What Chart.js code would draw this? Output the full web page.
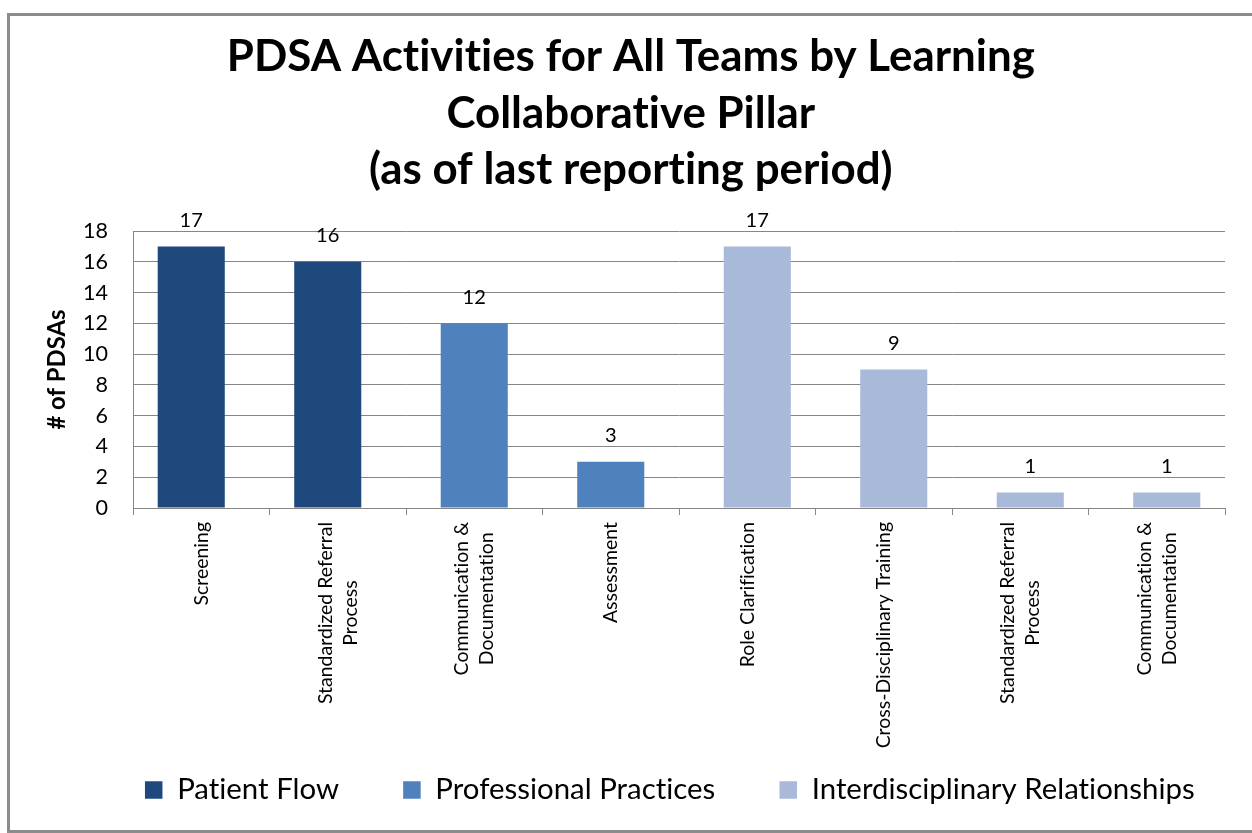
<!DOCTYPE html>
<html>
<head>
<meta charset="utf-8">
<script src="https://cdn.jsdelivr.net/npm/chart.js@4.4.1/dist/chart.umd.min.js"></script>
<style>
  html, body { margin: 0; padding: 0; background: #ffffff; overflow: hidden; width: 1252px; height: 833px; }
  #c { position: absolute; left: 0; top: 0; }
</style>
</head>
<body>
<canvas id="c" width="1252" height="833"></canvas>
<script>
// ---------- data ----------
const titleLines = ['PDSA Activities for All Teams by Learning', 'Collaborative Pillar', '(as of last reporting period)'];
const categories = [
  ['Screening'],
  ['Standardized Referral', 'Process'],
  ['Communication &', 'Documentation'],
  ['Assessment'],
  ['Role Clarification'],
  ['Cross-Disciplinary Training'],
  ['Standardized Referral', 'Process'],
  ['Communication &', 'Documentation']
];
const seriesNames = ['Patient Flow', 'Professional Practices', 'Interdisciplinary Relationships'];
const patientFlow = [17, 16, null, null, null, null, null, null];
const professionalPractices = [null, null, 12, 3, null, null, null, null];
const interdisciplinaryRelationships = [null, null, null, null, 17, 9, 1, 1];
const yMin = 0, yMax = 18, yStep = 2;
const yTitle = '# of PDSAs';

// ---------- styles ----------
const seriesColors = ['#1F497D', '#4F81BD', '#A9B9D9'];
const FAMILY = 'Lato, Carlito, Calibri, sans-serif';
const GRID = '#868686';
const FRAME = '#8c8c8c';

function plainText(ctx) {
  try { ctx.textRendering = 'optimizeSpeed'; } catch (e) {}
  try { ctx.letterSpacing = '0.01px'; } catch (e) {}
}

const mctx = document.createElement('canvas').getContext('2d');
plainText(mctx);
function fit(text, target, weight) {
  mctx.font = weight + ' 100px ' + FAMILY;
  return 100 * target / mctx.measureText(text).width;
}
const titleSize = fit(titleLines[0], 808, 'bold');
const tickSize = fit('18', 25, 'normal');
const dataLabelSize = fit('17', 23.3, 'normal');
const xLabelSize = fit('Standardized Referral', 182, 'normal');
const legendSize = fit('Professional Practices', 280, 'normal');
const yTitleSize = fit(yTitle, 120, 'bold');

const PAD_L = 20, PAD_R = 10.4, RIGHT_BOX = 16.6;
const CHART_LEFT = 133, CHART_TOP = 231, CHART_BOTTOM = 508;
const TITLE_LH = 56.5, TITLE_MID1 = 57;
const LEGEND_PAD = 64.2, LEGEND_ROW = 790, LEGEND_SHIFT = 39;
const legendTop = LEGEND_ROW - LEGEND_PAD - legendSize / 2;
const Y_TITLE_X = 57.5;
const X_LABEL_GAP = 14, X_LINE_H = 25;
const DATA_LABEL_GAP = 19.5;

const textSetup = {
  id: 'textSetup',
  beforeUpdate(chart) { plainText(chart.ctx); },
  beforeDraw(chart) {
    const ctx = chart.ctx;
    plainText(ctx);
    // outer chart frame (left, top, bottom edges; right edge is outside the picture)
    ctx.save();
    ctx.strokeStyle = FRAME;
    ctx.lineWidth = 3;
    ctx.beginPath();
    ctx.moveTo(chart.width + 5, 14.5);
    ctx.lineTo(8.5, 14.5);
    ctx.lineTo(8.5, 831.5);
    ctx.lineTo(chart.width + 5, 831.5);
    ctx.stroke();
    ctx.restore();
  }
};

const legendShift = {
  id: 'legendShift',
  afterLayout(chart) {
    const lg = chart.legend;
    if (lg) { lg.left += LEGEND_SHIFT; lg.right += LEGEND_SHIFT; }
  }
};

const valueLabels = {
  id: 'valueLabels',
  afterDatasetsDraw(chart) {
    const ctx = chart.ctx;
    ctx.save();
    ctx.font = 'normal ' + dataLabelSize + 'px ' + FAMILY;
    ctx.fillStyle = '#000';
    ctx.textAlign = 'center';
    ctx.textBaseline = 'alphabetic';
    chart.data.datasets.forEach((ds, di) => {
      const meta = chart.getDatasetMeta(di);
      meta.data.forEach((bar, i) => {
        const v = ds.data[i];
        if (v === null || v === undefined) return;
        ctx.fillText(String(v), bar.x, bar.y - DATA_LABEL_GAP);
      });
    });
    ctx.restore();
  }
};

const categoryLabels = {
  id: 'categoryLabels',
  afterDraw(chart) {
    const ctx = chart.ctx;
    const xs = chart.scales.x;
    ctx.save();
    ctx.font = 'normal ' + xLabelSize + 'px ' + FAMILY;
    ctx.fillStyle = '#000';
    ctx.textAlign = 'center';
    ctx.textBaseline = 'middle';
    chart.data.labels.forEach((lines, i) => {
      const cx = xs.getPixelForValue(i);
      const bw = Math.max(...lines.map(l => ctx.measureText(l).width));
      ctx.save();
      ctx.translate(cx, xs.top + X_LABEL_GAP);
      ctx.rotate(-Math.PI / 2);
      lines.forEach((l, j) => ctx.fillText(l, -bw / 2, (j - (lines.length - 1) / 2) * X_LINE_H));
      ctx.restore();
    });
    ctx.restore();
  }
};

const seriesData = [patientFlow, professionalPractices, interdisciplinaryRelationships];

new Chart(document.getElementById('c'), {
  type: 'bar',
  data: {
    labels: categories,
    datasets: seriesData.map((d, k) => ({
      label: seriesNames[k],
      data: d,
      backgroundColor: seriesColors[k],
      borderWidth: 0,
      categoryPercentage: 0.22,
      barPercentage: 6.7
    }))
  },
  options: {
    responsive: false,
    animation: false,
    devicePixelRatio: 1,
    layout: { padding: { left: PAD_L, right: PAD_R, top: 0, bottom: 833 - (LEGEND_ROW + 10 + legendSize / 2) } },
    plugins: {
      title: {
        display: true,
        text: titleLines,
        color: '#000',
        font: { family: FAMILY, weight: 'bold', size: titleSize, lineHeight: TITLE_LH / titleSize },
        padding: { top: TITLE_MID1 - TITLE_LH / 2, bottom: CHART_TOP - (TITLE_MID1 - TITLE_LH / 2) - 3 * TITLE_LH }
      },
      legend: {
        position: 'bottom',
        align: 'center',
        labels: {
          color: '#000',
          font: { family: FAMILY, size: legendSize },
          boxWidth: 17.5,
          boxHeight: 17.5,
          padding: LEGEND_PAD
        }
      },
      tooltip: { enabled: false }
    },
    scales: {
      x: {
        offset: true,
        grid: { display: true, offset: true, drawOnChartArea: false, drawTicks: true, tickLength: 7, color: GRID, lineWidth: 1 },
        border: { display: true, color: GRID, width: 1 },
        ticks: { display: false },
        afterFit(s) { s.height = legendTop - CHART_BOTTOM; }
      },
      y: {
        min: yMin, max: yMax,
        ticks: { stepSize: yStep, color: '#000', font: { family: FAMILY, size: tickSize }, padding: 25 },
        grid: { color: GRID, drawTicks: false, lineWidth: 1 },
        border: { display: true, color: GRID, width: 1 },
        title: {
          display: true, text: yTitle, color: '#000',
          font: { family: FAMILY, weight: 'bold', size: yTitleSize, lineHeight: 1 },
          padding: { top: Y_TITLE_X - PAD_L - yTitleSize / 2, bottom: 0 }
        },
        afterFit(s) { s.width = CHART_LEFT - PAD_L; }
      },
      yR: {
        position: 'right',
        display: true,
        grid: { display: false },
        ticks: { display: false },
        border: { display: false },
        afterFit(s) { s.width = RIGHT_BOX; }
      }
    }
  },
  plugins: [textSetup, legendShift, valueLabels, categoryLabels]
});
</script>
</body>
</html>
